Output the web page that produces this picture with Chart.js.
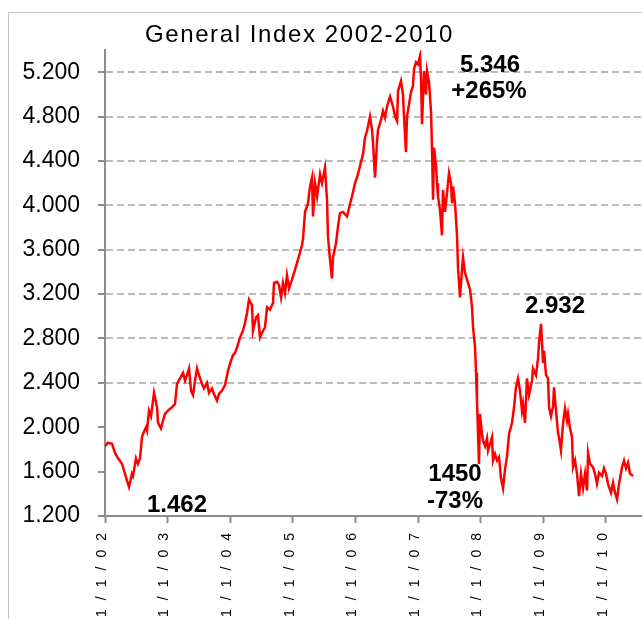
<!DOCTYPE html>
<html>
<head>
<meta charset="utf-8">
<script src="https://cdn.jsdelivr.net/npm/chart.js@4.4.1/dist/chart.umd.min.js"></script>
<style>
  html, body { margin: 0; padding: 0; background: #fff; }
  #wrap { width: 642px; height: 619px; }
</style>
</head>
<body>
<div id="wrap"><canvas id="indexChart" width="642" height="619"></canvas></div>
<script>
// General Index (decimal year, index points)
var chartTitle = 'General Index 2002-2010';

var years = [
  2002.000, 2002.048, 2002.112, 2002.160, 2002.208, 2002.272, 2002.304, 2002.351, 2002.383, 2002.431,
  2002.447, 2002.495, 2002.527, 2002.559, 2002.591, 2002.607, 2002.655, 2002.671, 2002.703, 2002.735,
  2002.767, 2002.783, 2002.831, 2002.847, 2002.895, 2002.927, 2002.958, 2003.006, 2003.070, 2003.118,
  2003.150, 2003.198, 2003.246, 2003.278, 2003.310, 2003.342, 2003.374, 2003.406, 2003.438, 2003.470,
  2003.502, 2003.550, 2003.581, 2003.629, 2003.661, 2003.709, 2003.741, 2003.789, 2003.821, 2003.869,
  2003.917, 2003.965, 2004.013, 2004.045, 2004.077, 2004.109, 2004.157, 2004.204, 2004.236, 2004.268,
  2004.300, 2004.348, 2004.364, 2004.412, 2004.444, 2004.476, 2004.524, 2004.556, 2004.588, 2004.636,
  2004.684, 2004.700, 2004.748, 2004.780, 2004.812, 2004.843, 2004.875, 2004.907, 2004.939, 2004.987,
  2005.035, 2005.083, 2005.147, 2005.163, 2005.195, 2005.243, 2005.275, 2005.307, 2005.323, 2005.355,
  2005.387, 2005.435, 2005.466, 2005.514, 2005.546, 2005.562, 2005.594, 2005.626, 2005.642, 2005.690,
  2005.722, 2005.754, 2005.802, 2005.866, 2005.914, 2005.962, 2005.994, 2006.042, 2006.089, 2006.121,
  2006.153, 2006.185, 2006.233, 2006.265, 2006.281, 2006.313, 2006.345, 2006.361, 2006.409, 2006.441,
  2006.473, 2006.505, 2006.553, 2006.601, 2006.633, 2006.665, 2006.681, 2006.728, 2006.760, 2006.776,
  2006.808, 2006.824, 2006.856, 2006.888, 2006.920, 2006.936, 2006.968, 2007.000, 2007.032, 2007.048,
  2007.064, 2007.096, 2007.128, 2007.144, 2007.176, 2007.208, 2007.224, 2007.240, 2007.256, 2007.288,
  2007.304, 2007.319, 2007.351, 2007.383, 2007.399, 2007.431, 2007.463, 2007.495, 2007.527, 2007.543,
  2007.559, 2007.591, 2007.623, 2007.639, 2007.671, 2007.703, 2007.719, 2007.751, 2007.783, 2007.831,
  2007.863, 2007.879, 2007.911, 2007.927, 2007.942, 2007.974, 2007.990, 2008.022, 2008.038, 2008.070,
  2008.102, 2008.118, 2008.150, 2008.182, 2008.198, 2008.230, 2008.262, 2008.294, 2008.326, 2008.358,
  2008.390, 2008.422, 2008.454, 2008.502, 2008.534, 2008.565, 2008.597, 2008.629, 2008.661, 2008.677,
  2008.709, 2008.741, 2008.773, 2008.821, 2008.837, 2008.885, 2008.917, 2008.933, 2008.965, 2008.997,
  2009.013, 2009.045, 2009.077, 2009.093, 2009.125, 2009.157, 2009.173, 2009.204, 2009.236, 2009.252,
  2009.284, 2009.316, 2009.348, 2009.380, 2009.396, 2009.428, 2009.460, 2009.476, 2009.508, 2009.540,
  2009.572, 2009.604, 2009.636, 2009.668, 2009.700, 2009.716, 2009.748, 2009.796, 2009.827, 2009.859,
  2009.891, 2009.939, 2009.971, 2010.003, 2010.035, 2010.083, 2010.115, 2010.147, 2010.179, 2010.211,
  2010.259, 2010.291, 2010.323, 2010.355, 2010.387, 2010.435
];

var closes = [
  1830, 1860, 1850, 1770, 1720, 1670, 1610, 1520, 1462, 1580,
  1560, 1720, 1670, 1720, 1910, 1940, 2000, 1970, 2150, 2100,
  2240, 2310, 2180, 2040, 1990, 2060, 2120, 2150, 2180, 2210,
  2390, 2440, 2490, 2420, 2470, 2530, 2330, 2290, 2420, 2530,
  2470, 2390, 2350, 2400, 2310, 2350, 2300, 2240, 2300, 2330,
  2380, 2510, 2600, 2650, 2670, 2720, 2810, 2870, 2940, 3030,
  3150, 3100, 2870, 2990, 3010, 2810, 2870, 2900, 3080, 3060,
  3120, 3300, 3310, 3280, 3170, 3300, 3210, 3370, 3250, 3330,
  3420, 3510, 3640, 3700, 3940, 4020, 4170, 4250, 3900, 4200,
  4080, 4280, 4200, 4340, 4050, 3720, 3510, 3340, 3530, 3660,
  3810, 3930, 3940, 3900, 4010, 4120, 4200, 4280, 4390, 4460,
  4610, 4670, 4800, 4680, 4570, 4250, 4570, 4680, 4770, 4850,
  4790, 4890, 4980, 4890, 4800, 4760, 5030, 5120, 5000, 4800,
  4480, 4800, 4910, 5020, 5080, 5230, 5290, 5270, 5346, 5140,
  4730, 5210, 5000, 5210, 5110, 4840, 4500, 4050, 4520, 4350,
  4200, 4080, 3960, 3730, 4140, 3940, 4110, 4290, 4200, 4020,
  4170, 4020, 3730, 3440, 3170, 3420, 3530, 3390, 3330, 3240,
  3080, 2900, 2720, 2490, 2240, 1670, 2120, 1940, 1880, 1830,
  1900, 1790, 1850, 1910, 1700, 1760, 1700, 1730, 1540, 1450,
  1620, 1740, 1940, 2040, 2180, 2360, 2440, 2330, 2150, 2210,
  2040, 2440, 2290, 2420, 2530, 2470, 2620, 2760, 2932, 2580,
  2690, 2470, 2440, 2180, 2100, 2190, 2360, 2150, 1950, 1910,
  1790, 2030, 2170, 2060, 2120, 1990, 1910, 1640, 1700, 1580,
  1380, 1580, 1450, 1580, 1430, 1770, 1670, 1640, 1580, 1490,
  1590, 1560, 1630, 1580, 1490, 1410, 1500, 1410, 1350, 1490,
  1640, 1700, 1630, 1680, 1580, 1560
];

var yearTicks = [2002, 2003, 2004, 2005, 2006, 2007, 2008, 2009, 2010];
var valueTicks = [1200, 1600, 2000, 2400, 2800, 3200, 3600, 4000, 4400, 4800, 5200];
var noteTexts = ['5.346', '+265%', '2.932', '1.462', '1450', '-73%'];

var FONT = '"Liberation Sans", Arial, sans-serif';

function fmtPoints(v) {
  var th = Math.floor(v / 1000);
  var rest = String(Math.round(v % 1000));
  while (rest.length < 3) rest = '0' + rest;
  return th + '.' + rest;
}

function yearLabel(y) {
  return '1/1/' + String(y).slice(2);
}

// only the upper part of the plot carries dashed grid lines in the original
var gridColors = valueTicks.map(function(v) {
  return v >= 2400 ? '#bababa' : 'rgba(0,0,0,0)';
});

// frame, title, rotated date labels and the bold notes
var decor = {
  id: 'decor',
  beforeDraw: function(chart) {
    var c = chart.ctx;
    c.save();
    c.fillStyle = '#ffffff';
    c.fillRect(0, 0, chart.width, chart.height);
    c.strokeStyle = '#c4c4c4';
    c.lineWidth = 1;
    c.strokeRect(8.5, 12.5, chart.width + 10, chart.height + 10);
    c.fillStyle = '#000';
    c.font = '24px ' + FONT;
    c.letterSpacing = '1.6px';
    c.textAlign = 'left';
    c.textBaseline = 'alphabetic';
    c.fillText(chartTitle, 145, 42);
    c.restore();
  },
  afterDraw: function(chart) {
    var c = chart.ctx;
    var xs = chart.scales.x;
    c.save();
    c.fillStyle = '#000';
    c.font = '14px ' + FONT;
    c.letterSpacing = '9px';
    c.textAlign = 'right';
    c.textBaseline = 'middle';
    yearTicks.forEach(function(y) {
      var px = xs.getPixelForValue(y);
      c.save();
      c.translate(px - 3, 524);
      c.rotate(-Math.PI / 2);
      c.fillText(yearLabel(y), 0, 0);
      c.restore();
    });
    c.letterSpacing = '0px';
    c.font = 'bold 24px ' + FONT;
    c.textAlign = 'center';
    var spots = [[490, 65], [489, 91], [555, 306], [177, 505], [455, 474], [455, 501]];
    noteTexts.forEach(function(t, i) {
      c.fillText(t, spots[i][0], spots[i][1]);
    });
    c.restore();
  }
};

var ctx = document.getElementById('indexChart');
var chart = new Chart(ctx, {
  type: 'line',
  data: {
    datasets: [{
      data: years.map(function(t, i) { return { x: t, y: closes[i] }; }),
      borderColor: '#ff0000',
      borderWidth: 2.5,
      pointRadius: 0,
      tension: 0,
      fill: false
    }]
  },
  options: {
    responsive: false,
    animation: false,
    devicePixelRatio: 1,
    layout: { padding: { top: 50, right: 0, bottom: 0, left: 0 } },
    plugins: {
      legend: { display: false },
      tooltip: { enabled: false },
      title: { display: false }
    },
    scales: {
      x: {
        type: 'linear',
        min: 2002,
        max: 2010.578,
        afterBuildTicks: function(axis) {
          axis.ticks = yearTicks.map(function(v) { return { value: v }; });
        },
        afterFit: function(scale) { scale.height = 103; },
        ticks: { display: false },
        grid: {
          drawOnChartArea: false,
          drawTicks: true,
          tickLength: 7,
          tickColor: '#8c8c8c',
          tickWidth: 2
        },
        border: { color: '#8c8c8c', width: 2 }
      },
      y: {
        min: 1200,
        max: 5400,
        afterBuildTicks: function(axis) {
          axis.ticks = valueTicks.map(function(v) { return { value: v }; });
        },
        afterFit: function(scale) { scale.width = 105; },
        ticks: {
          padding: 18,
          color: '#000',
          font: { family: FONT, size: 23 },
          callback: function(v) { return fmtPoints(v); }
        },
        grid: {
          color: gridColors,
          lineWidth: 2,
          tickLength: 7,
          tickColor: '#8c8c8c',
          tickWidth: 2,
          tickBorderDash: []
        },
        border: { color: '#8c8c8c', width: 2, dash: [7, 4] }
      }
    }
  },
  plugins: [decor]
});
</script>
</body>
</html>
